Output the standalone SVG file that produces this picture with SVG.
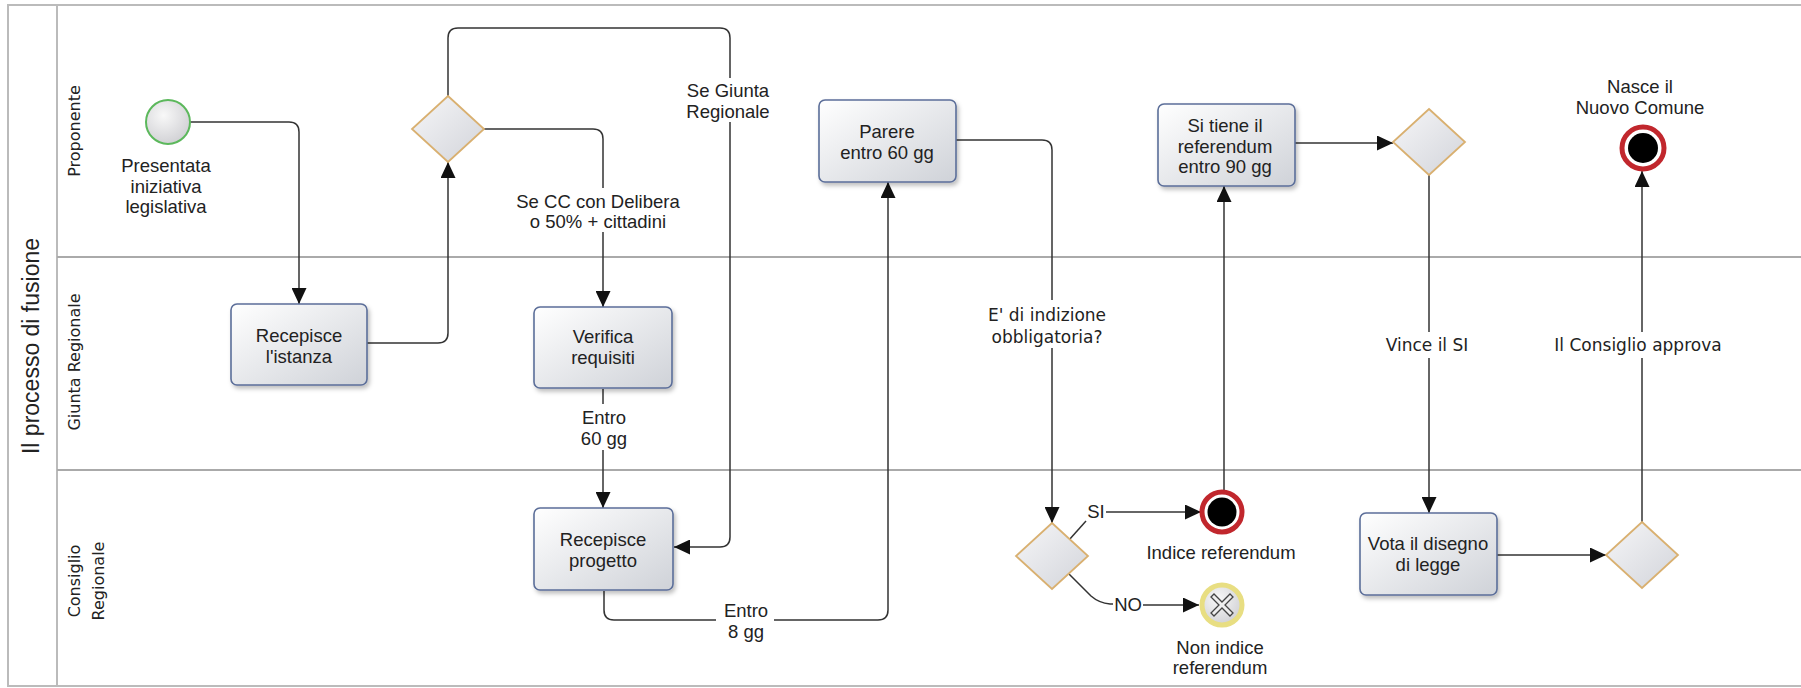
<svg xmlns="http://www.w3.org/2000/svg" width="1801" height="688" viewBox="0 0 1801 688">
<defs>
<style>
.lbl{font-family:"Liberation Sans",Arial,sans-serif;font-size:18.5px;fill:#222;text-anchor:middle}
.lbl2{font-family:"DejaVu Sans",sans-serif;font-size:17px;fill:#222;text-anchor:middle}
.lane{font-family:"DejaVu Sans",sans-serif;font-size:16px;fill:#222;text-anchor:middle}
.conn{fill:none;stroke:#333;stroke-width:1.5}
.task{fill:url(#gTask);stroke:#5b6e99;stroke-width:1.6;filter:url(#sh)}
.gw{fill:url(#gGw);stroke:#d9b070;stroke-width:1.8}
.bg{fill:#fff}
</style>
<linearGradient id="gTask" x1="0" y1="0" x2="1" y2="1">
<stop offset="0" stop-color="#ffffff"/><stop offset="1" stop-color="#cfd2d8"/>
</linearGradient>
<linearGradient id="gGw" x1="0" y1="0" x2="1" y2="1">
<stop offset="0" stop-color="#f6f6f8"/><stop offset="1" stop-color="#d2d4da"/>
</linearGradient>
<radialGradient id="gEv" cx="0.4" cy="0.35" r="0.7">
<stop offset="0" stop-color="#f8f8f8"/><stop offset="1" stop-color="#cfcfd3"/>
</radialGradient>
<filter id="sh" x="-10%" y="-10%" width="125%" height="130%">
<feDropShadow dx="2" dy="3" stdDeviation="2" flood-color="#000" flood-opacity="0.25"/>
</filter>
<marker id="arr" markerUnits="userSpaceOnUse" markerWidth="16" markerHeight="15" refX="16" refY="7.5" orient="auto">
<path d="M0,0 L16,7.5 L0,15 z" fill="#111"/>
</marker>
</defs>

<g id="pool">
<rect x="8" y="5" width="1800" height="681" fill="#fff" stroke="#bbb" stroke-width="2"/>
<line x1="57" y1="5" x2="57" y2="686" stroke="#bbb" stroke-width="2"/>
<line x1="57" y1="257" x2="1801" y2="257" stroke="#aaa" stroke-width="2"/>
<line x1="57" y1="470" x2="1801" y2="470" stroke="#aaa" stroke-width="2"/>
<text transform="translate(39,346) rotate(-90)" font-family="Liberation Sans, Arial, sans-serif" font-size="23" fill="#222" text-anchor="middle">Il processo di fusione</text>
<text class="lane" transform="translate(80,131) rotate(-90)">Proponente</text>
<text class="lane" transform="translate(80,362) rotate(-90)">Giunta Regionale</text>
<text class="lane" transform="translate(80,581) rotate(-90)">Consiglio</text>
<text class="lane" transform="translate(104,581) rotate(-90)">Regionale</text>
</g>

<g id="connectors">
<path class="conn" d="M190,122 H289 Q299,122 299,132 V304" marker-end="url(#arr)"/>
<path class="conn" d="M367,343 H438 Q448,343 448,333 V162" marker-end="url(#arr)"/>
<path class="conn" d="M448,96 V38 Q448,28 458,28 H720 Q730,28 730,38 V537 Q730,547 720,547 H674" marker-end="url(#arr)"/>
<rect class="bg" x="684" y="78" width="90" height="44"/>
<text class="lbl" x="728" y="97">Se Giunta</text>
<text class="lbl" x="728" y="118">Regionale</text>
<path class="conn" d="M484,129 H593 Q603,129 603,139 V307" marker-end="url(#arr)"/>
<rect class="bg" x="512" y="188" width="174" height="44"/>
<text class="lbl" x="598" y="208">Se CC con Delibera</text>
<text class="lbl" x="598" y="228">o 50% + cittadini</text>
<path class="conn" d="M603,389 V508" marker-end="url(#arr)"/>
<rect class="bg" x="578" y="404" width="52" height="46"/>
<text class="lbl" x="604" y="424">Entro</text>
<text class="lbl" x="604" y="445">60 gg</text>
<path class="conn" d="M604,591 V610 Q604,620 614,620 H878 Q888,620 888,610 V182" marker-end="url(#arr)"/>
<rect class="bg" x="716" y="600" width="58" height="42"/>
<text class="lbl" x="746" y="617">Entro</text>
<text class="lbl" x="746" y="638">8 gg</text>
<path class="conn" d="M956,140 H1042 Q1052,140 1052,150 V523" marker-end="url(#arr)"/>
<rect class="bg" x="984" y="300" width="128" height="48"/>
<text class="lbl2" x="1047" y="321">E' di indizione</text>
<text class="lbl2" x="1047" y="343">obbligatoria?</text>
<path class="conn" d="M1069,540 L1086,521"/>
<text class="lbl" x="1096" y="518" font-size="15.5">SI</text>
<path class="conn" d="M1106,512 H1201" marker-end="url(#arr)"/>
<path class="conn" d="M1069,574 L1091,596 Q1099,603 1110,604 H1113"/>
<text class="lbl" x="1128" y="611" font-size="16.5">NO</text>
<path class="conn" d="M1143,605 H1199" marker-end="url(#arr)"/>
<path class="conn" d="M1224,490 V186" marker-end="url(#arr)"/>
<path class="conn" d="M1295,143 H1393" marker-end="url(#arr)"/>
<path class="conn" d="M1429,175 V513" marker-end="url(#arr)"/>
<rect class="bg" x="1376" y="332" width="102" height="26"/>
<text class="lbl2" x="1427" y="351">Vince il SI</text>
<path class="conn" d="M1497,555 H1606" marker-end="url(#arr)"/>
<path class="conn" d="M1642,522 V171" marker-end="url(#arr)"/>
<rect class="bg" x="1548" y="332" width="182" height="26"/>
<text class="lbl2" x="1638" y="351">Il Consiglio approva</text>
</g>

<g id="start">
<circle cx="168" cy="122" r="22" fill="url(#gEv)" stroke="#5cb85c" stroke-width="2"/>
<text class="lbl" x="166" y="172">Presentata</text>
<text class="lbl" x="166" y="193">iniziativa</text>
<text class="lbl" x="166" y="213">legislativa</text>
</g>

<g id="task-recepisce-istanza">
<rect class="task" x="231" y="304" width="136" height="81" rx="6"/>
<text class="lbl" x="299" y="342">Recepisce</text>
<text class="lbl" x="299" y="363">l'istanza</text>
</g>

<g id="gw-top">
<polygon class="gw" points="448,96 484,129 448,162 412,129"/>
</g>

<g id="task-verifica">
<rect class="task" x="534" y="307" width="138" height="81" rx="6"/>
<text class="lbl" x="603" y="343">Verifica</text>
<text class="lbl" x="603" y="364">requisiti</text>
</g>

<g id="task-recepisce-progetto">
<rect class="task" x="534" y="508" width="139" height="82" rx="6"/>
<text class="lbl" x="603" y="546">Recepisce</text>
<text class="lbl" x="603" y="567">progetto</text>
</g>

<g id="task-parere">
<rect class="task" x="819" y="100" width="137" height="82" rx="6"/>
<text class="lbl" x="887" y="138">Parere</text>
<text class="lbl" x="887" y="159">entro 60 gg</text>
</g>

<g id="gw-indizione">
<polygon class="gw" points="1052,523 1088,556 1052,589 1016,556"/>
</g>

<g id="end-indice">
<circle cx="1222" cy="512" r="20" fill="#fff" stroke="#c1272d" stroke-width="5"/>
<circle cx="1222" cy="512" r="14.5" fill="#000"/>
<text class="lbl" x="1221" y="559">Indice referendum</text>
</g>

<g id="end-non-indice">
<circle cx="1222" cy="605" r="20" fill="url(#gEv)" stroke="#e8de82" stroke-width="5"/>
<path d="M1211,597 L1214,594 L1222,602 L1230,594 L1233,597 L1225,605 L1233,613 L1230,616 L1222,608 L1214,616 L1211,613 L1219,605 z" fill="#eee" stroke="#444" stroke-width="1.3"/>
<text class="lbl" x="1220" y="654">Non indice</text>
<text class="lbl" x="1220" y="674">referendum</text>
</g>

<g id="task-referendum">
<rect class="task" x="1158" y="104" width="137" height="82" rx="6"/>
<text class="lbl" x="1225" y="132">Si tiene il</text>
<text class="lbl" x="1225" y="153">referendum</text>
<text class="lbl" x="1225" y="173">entro 90 gg</text>
</g>

<g id="gw-vince">
<polygon class="gw" points="1429,109 1465,142 1429,175 1393,142"/>
</g>

<g id="task-vota">
<rect class="task" x="1360" y="513" width="137" height="82" rx="6"/>
<text class="lbl" x="1428" y="550">Vota il disegno</text>
<text class="lbl" x="1428" y="571">di legge</text>
</g>

<g id="gw-approva">
<polygon class="gw" points="1642,522 1678,555 1642,588 1606,555"/>
</g>

<g id="end-nasce">
<circle cx="1643" cy="148" r="21" fill="#fff" stroke="#c1272d" stroke-width="5"/>
<circle cx="1643" cy="148" r="15" fill="#000"/>
<text class="lbl" x="1640" y="93">Nasce il</text>
<text class="lbl" x="1640" y="114">Nuovo Comune</text>
</g>
</svg>
